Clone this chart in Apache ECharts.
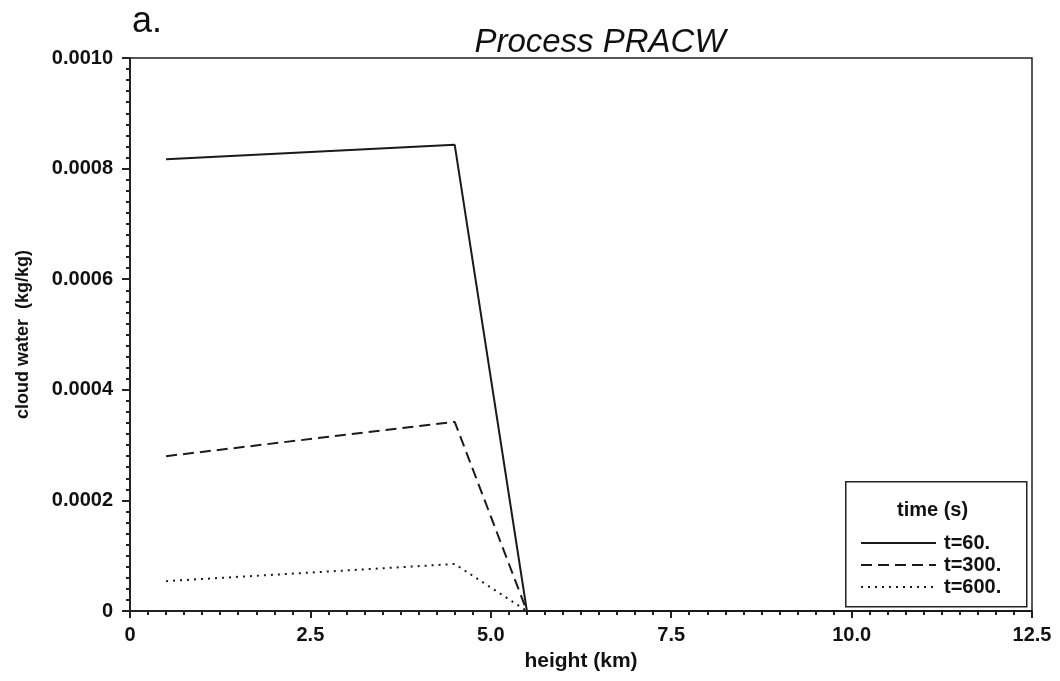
<!DOCTYPE html>
<html>
<head>
<meta charset="utf-8">
<script src="https://cdn.jsdelivr.net/npm/echarts@6/dist/echarts.min.js"></script>
<style>html,body{margin:0;padding:0;background:#fff}#c{width:1060px;height:681px}</style>
</head>
<body>
<div id="c"></div>
<script>
// Data
var heights60 = [0.5, 4.5, 5.5, 12.5];
var water60 = [0.000817, 0.000843, 0.0, 0.0];
var heights300 = [0.5, 4.5, 5.5, 12.5];
var water300 = [0.000280, 0.000342, 0.0, 0.0];
var heights600 = [0.5, 4.5, 5.5, 12.5];
var water600 = [0.000054, 0.000085, 0.0, 0.0];
var seriesNames = ['t=60.', 't=300.', 't=600.'];
var xTickLabels = ['0', '2.5', '5.0', '7.5', '10.0', '12.5'];
var yTickLabels = ['0', '0.0002', '0.0004', '0.0006', '0.0008', '0.0010'];

function pairs(xs, ys) { return xs.map(function (x, i) { return [x, ys[i]]; }); }

var chart = echarts.init(document.getElementById('c'), null, { renderer: 'canvas' });
var font = 'Liberation Sans, Arial, sans-serif';
var ink = '#111';
var lineCommon = { type: 'line', symbol: 'none', silent: true, animation: false };

chart.setOption({
  animation: false,
  backgroundColor: '#fff',
  textStyle: { fontFamily: font, color: ink },
  title: {
    text: 'Process PRACW', left: 595, top: 21, textAlign: 'center',
    textStyle: { fontFamily: font, fontStyle: 'italic', fontWeight: 'normal', fontSize: 33, color: ink }
  },
  graphic: [
    { type: 'text', left: 132, top: 4, style: { text: 'a.', font: '36px ' + font, fill: ink } },
    { type: 'rect', left: 845, top: 481, shape: { width: 181, height: 125 },
      style: { fill: '#fff', stroke: '#222', lineWidth: 1.5 }, z: 10 },
    { type: 'text', left: 897, top: 500, style: { text: 'time (s)', font: 'bold 20px ' + font, fill: ink }, z: 11 }
  ],
  legend: {
    orient: 'vertical', left: 855, top: 528, itemGap: 2, itemWidth: 75, itemHeight: 21,
    data: seriesNames, z: 12,
    itemStyle: { opacity: 0 },
    textStyle: { fontFamily: font, fontWeight: 'bold', fontSize: 20, color: ink, padding: [0, 0, 0, 3] }
  },
  grid: { left: 130, right: 28, top: 58, bottom: 70, show: true, borderColor: '#222', borderWidth: 1.5, backgroundColor: 'transparent' },
  xAxis: {
    type: 'value', min: 0, max: 12.5, interval: 2.5,
    name: 'height (km)', nameLocation: 'middle', nameGap: 40,
    nameTextStyle: { fontFamily: font, fontWeight: 'bold', fontSize: 21, color: ink },
    axisLine: { show: true, onZero: false, lineStyle: { color: '#222', width: 2 } },
    axisTick: { show: true, inside: false, length: 7, lineStyle: { color: '#222', width: 2 } },
    minorTick: { show: true, splitNumber: 10, length: 4, lineStyle: { color: '#222', width: 2 } },
    splitLine: { show: false },
    axisLabel: { margin: 14, fontFamily: font, fontWeight: 'bold', fontSize: 20, color: ink,
      formatter: function (v) { return xTickLabels[Math.round(v / 2.5)]; } }
  },
  yAxis: {
    type: 'value', min: 0, max: 0.001, interval: 0.0002,
    name: 'cloud water  (kg/kg)', nameLocation: 'middle', nameGap: 98,
    nameTextStyle: { fontFamily: font, fontWeight: 'bold', fontSize: 18, color: ink },
    axisLine: { show: true, onZero: false, lineStyle: { color: '#222', width: 2 } },
    axisTick: { show: true, inside: false, length: 8, lineStyle: { color: '#222', width: 2 } },
    minorTick: { show: true, splitNumber: 10, length: 4, lineStyle: { color: '#222', width: 2 } },
    splitLine: { show: false },
    axisLabel: { margin: 17, fontFamily: font, fontWeight: 'bold', fontSize: 20, color: ink,
      formatter: function (v) { return yTickLabels[Math.round(v / 0.0002)]; } }
  },
  series: [
    Object.assign({}, lineCommon, { name: seriesNames[0], data: pairs(heights60, water60),
      lineStyle: { color: '#1a1a1a', width: 2, type: 'solid' }, itemStyle: { color: '#1a1a1a' } }),
    Object.assign({}, lineCommon, { name: seriesNames[1], data: pairs(heights300, water300),
      lineStyle: { color: '#1a1a1a', width: 2, type: [11, 6] }, itemStyle: { color: '#1a1a1a' } }),
    Object.assign({}, lineCommon, { name: seriesNames[2], data: pairs(heights600, water600),
      lineStyle: { color: '#1a1a1a', width: 2, type: [2, 5] }, itemStyle: { color: '#1a1a1a' } })
  ]
});
</script>
</body>
</html>
